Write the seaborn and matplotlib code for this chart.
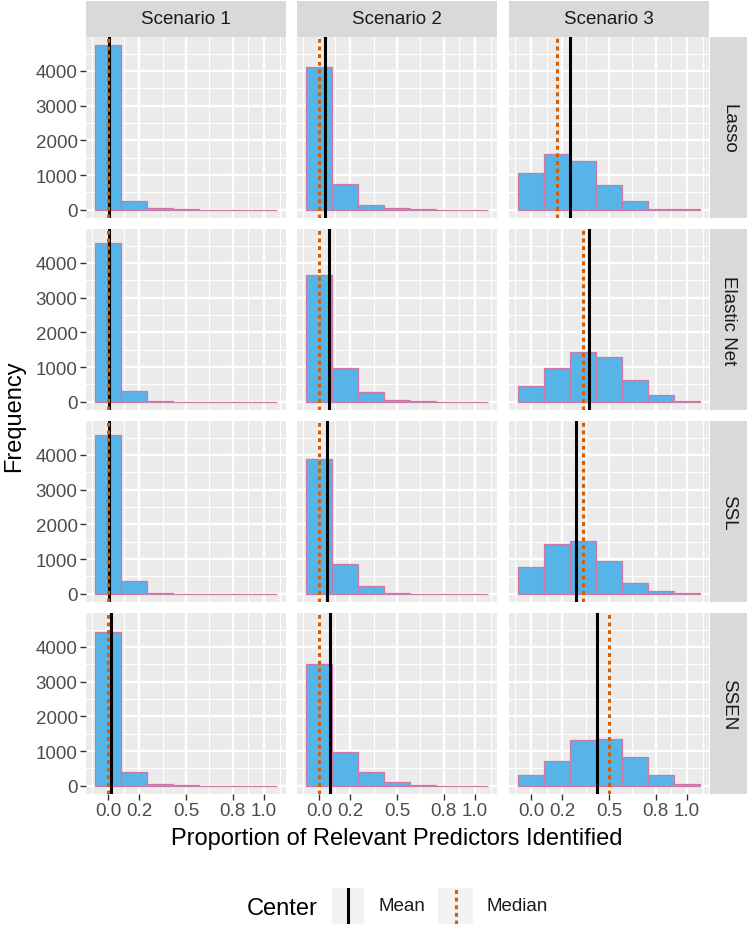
import numpy as np
import pandas as pd
import seaborn as sns
import matplotlib.pyplot as plt

plt.rcParams['font.family'] = ['Liberation Sans', 'DejaVu Sans']

methods = ['Lasso', 'Elastic Net', 'SSL', 'SSEN']
scenarios = ['Scenario 1', 'Scenario 2', 'Scenario 3']
props = [0, 1/6, 2/6, 3/6, 4/6, 5/6, 1]

# counts per bin, one list per scenario
lasso_counts = [[4740, 260, 50, 10, 5, 0, 0],
                [4125, 750, 125, 40, 10, 5, 0],
                [1050, 1620, 1400, 710, 260, 30, 15]]
enet_counts = [[4580, 320, 20, 5, 0, 0, 0],
               [3645, 965, 290, 45, 10, 0, 0],
               [450, 960, 1420, 1285, 625, 190, 20]]
ssl_counts = [[4585, 355, 25, 5, 0, 0, 0],
              [3880, 845, 220, 30, 5, 0, 0],
              [760, 1420, 1520, 940, 320, 90, 10]]
ssen_counts = [[4420, 400, 60, 10, 0, 0, 0],
               [3500, 965, 400, 95, 15, 5, 0],
               [315, 710, 1310, 1360, 835, 315, 55]]

lasso_mean = [0.005, 0.035, 0.247]
enet_mean = [0.008, 0.061, 0.373]
ssl_mean = [0.008, 0.051, 0.29]
ssen_mean = [0.019, 0.072, 0.424]

lasso_median = [0, 0, 1/6]
enet_median = [0, 0, 1/3]
ssl_median = [0, 0, 1/3]
ssen_median = [0, 0, 0.5]

x_breaks = [0, 0.2, 0.5, 0.8, 1.0]
x_labels = ['0.0', '0.2', '0.5', '0.8', '1.0']
x_minor = [-0.1, 0.1, 0.35, 0.65, 0.9, 1.1]
y_breaks = [0, 1000, 2000, 3000, 4000]
y_minor = [500, 1500, 2500, 3500, 4500]

counts = {'Lasso': lasso_counts, 'Elastic Net': enet_counts, 'SSL': ssl_counts, 'SSEN': ssen_counts}
means = {'Lasso': lasso_mean, 'Elastic Net': enet_mean, 'SSL': ssl_mean, 'SSEN': ssen_mean}
medians = {'Lasso': lasso_median, 'Elastic Net': enet_median, 'SSL': ssl_median, 'SSEN': ssen_median}

rows = []
for m in methods:
	for j, s in enumerate(scenarios):
		for p, c in zip(props, counts[m][j]):
			rows.append([m, s, p, c])
df = pd.DataFrame(rows, columns=['method', 'scenario', 'prop', 'count'])

binw = props[1] - props[0]
xlo, xhi = props[0] - binw / 2, props[-1] + binw / 2
xpad = 0.05 * (xhi - xlo)
ymax = df['count'].max()

FILL = '#56B4E9'
EDGE = '#CC79A7'
MED = '#D55E00'
PANEL = '#EBEBEB'
STRIP = '#D9D9D9'
TXT = '#4D4D4D'

W, H = 750, 929
fig = plt.figure(figsize=(W / 100, H / 100), dpi=100)

def px(x, y, w, h):
	return [x / W, 1 - (y + h) / H, w / W, h / H]

col_left = [86, 297, 509]
row_top = [38, 230, 422, 614]
pw, ph = 200, 181

for i, m in enumerate(methods):
	for j, s in enumerate(scenarios):
		ax = fig.add_axes(px(col_left[j], row_top[i], pw, ph))
		sub = df[(df['method'] == m) & (df['scenario'] == s)]
		sns.histplot(data=sub, x='prop', weights='count', bins=len(props), binrange=(xlo, xhi),
			ax=ax, color=FILL, edgecolor=EDGE, alpha=1, linewidth=0.9, zorder=2)
		ax.axvline(means[m][j], color='black', lw=2.2, zorder=3)
		ax.axvline(medians[m][j], color=MED, lw=2.2, ls=(0, (1.3, 1.2)), zorder=4)
		ax.set_facecolor(PANEL)
		for sp in ax.spines.values():
			sp.set_visible(False)
		ax.set_xlim(xlo - xpad, xhi + xpad)
		ax.set_ylim(-0.05 * ymax, 1.05 * ymax)
		ax.set_xticks(x_breaks)
		ax.set_xticks(x_minor, minor=True)
		ax.set_yticks(y_breaks)
		ax.set_yticks(y_minor, minor=True)
		ax.grid(which='major', color='white', lw=1.7)
		ax.grid(which='minor', color='white', lw=0.85)
		ax.set_axisbelow(True)
		ax.tick_params(which='minor', length=0)
		ax.tick_params(which='major', length=4, width=1, color='#333333',
			labelcolor=TXT, labelsize=13.5, pad=2)
		ax.set_xlabel('')
		ax.set_ylabel('')
		if i == len(methods) - 1:
			ax.set_xticklabels(x_labels)
		else:
			ax.tick_params(axis='x', length=0, labelbottom=False)
		if j == 0:
			ax.set_yticklabels([str(v) for v in y_breaks])
		else:
			ax.tick_params(axis='y', length=0, labelleft=False)

# strips
for j, s in enumerate(scenarios):
	sa = fig.add_axes(px(col_left[j], 2, pw, 36))
	sa.set_facecolor(STRIP)
	sa.set_xticks([])
	sa.set_yticks([])
	for sp in sa.spines.values():
		sp.set_visible(False)
	sa.text(0.5, 0.5, s, ha='center', va='center', fontsize=13.5, color='#1A1A1A')

for i, m in enumerate(methods):
	sa = fig.add_axes(px(710, row_top[i], 37, ph))
	sa.set_facecolor(STRIP)
	sa.set_xticks([])
	sa.set_yticks([])
	for sp in sa.spines.values():
		sp.set_visible(False)
	sa.text(0.5, 0.5, m, ha='center', va='center', rotation=-90, fontsize=13.5, color='#1A1A1A')

fig.text(14 / W, 1 - 416 / H, 'Frequency', rotation=90, ha='center', va='center', fontsize=17)
fig.text(397 / W, 1 - 839 / H, 'Proportion of Relevant Predictors Identified',
	ha='center', va='center', fontsize=17)

# legend
fig.text(247 / W, 1 - 909 / H, 'Center', ha='left', va='center', fontsize=17)
k1 = fig.add_axes(px(332, 889, 32, 36))
k1.axvline(0.5, color='black', lw=2.2)
k2 = fig.add_axes(px(438, 889, 35, 36))
k2.axvline(0.5, color=MED, lw=2.2, ls=(0, (1.3, 1.2)))
for k in (k1, k2):
	k.set_facecolor('#F2F2F2')
	k.set_xlim(0, 1)
	k.set_ylim(0, 1)
	k.set_xticks([])
	k.set_yticks([])
	for sp in k.spines.values():
		sp.set_visible(False)
fig.text(378 / W, 1 - 907 / H, 'Mean', ha='left', va='center', fontsize=13.5, color='#1A1A1A')
fig.text(486 / W, 1 - 907 / H, 'Median', ha='left', va='center', fontsize=13.5, color='#1A1A1A')

fig.savefig('out.png', dpi=100, facecolor='white')
